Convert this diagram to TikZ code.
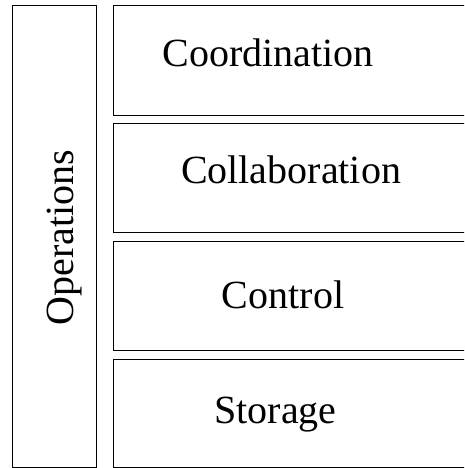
\documentclass[tikz,border=0pt]{standalone}
\usepackage{fontspec}
\setmainfont{Liberation Serif}
\begin{document}
\begin{tikzpicture}[x=1pt,y=-1pt,
  layer/.style={draw=black,line width=0.9pt},
  caption/.style={font=\fontsize{40}{48}\selectfont,inner sep=0pt,anchor=base}]
\useasboundingbox (0,0) rectangle (464,468);
\clip (0,0) rectangle (464,468);
% side column
\draw[layer] (12,5.7) rectangle (96.5,467);
\node[caption,rotate=90] (ops) at (73.5,237.5) {Operations};
% stacked layers, open to the right
\draw[layer] (113,5.7) rectangle (480,115);
\draw[layer] (113,123.3) rectangle (480,232.6);
\draw[layer] (113,241) rectangle (480,350.7);
\draw[layer] (113,359) rectangle (480,467);
\node[caption] (coord) at (268,66.7) {Coordination};
\node[caption] (collab) at (291,183.3) {Collaboration};
\node[caption] (ctrl) at (283,308) {Control};
\node[caption] (stor) at (275.5,423.5) {Storage};
\end{tikzpicture}
\end{document}
